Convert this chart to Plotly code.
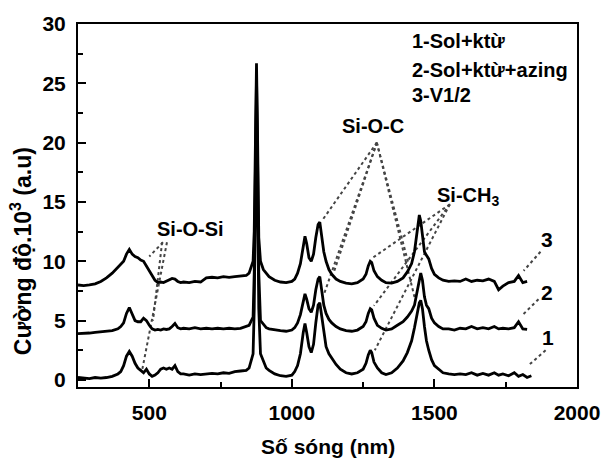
import plotly.graph_objects as go

# ---------------- data ----------------
wavenumber = [250, 270, 290, 310, 330, 350, 370, 390, 400, 410, 420, 430, 440, 450, 460, 470, 480, 490,
              500, 510, 520, 530, 540, 550, 560, 570, 580, 590, 600, 610, 620, 640, 660, 680, 700, 720,
              740, 760, 780, 800, 820, 840, 850, 858, 864, 868, 872, 876, 880, 884, 890, 900, 910, 920,
              940, 960, 980, 1000, 1010, 1020, 1030, 1040, 1046, 1052, 1060, 1068, 1076, 1084, 1092,
              1098, 1104, 1112, 1120, 1130, 1140, 1155, 1170, 1190, 1210, 1230, 1250, 1260, 1268, 1275,
              1280, 1288, 1300, 1315, 1330, 1350, 1370, 1390, 1405, 1420, 1430, 1440, 1447, 1452, 1458,
              1465, 1472, 1480, 1490, 1500, 1515, 1530, 1550, 1570, 1590, 1610, 1630, 1650, 1670, 1690,
              1710, 1725, 1740, 1760, 1780, 1795, 1810, 1825, 1840]

# curve 3 : V1/2
spec3 = [8.0, 7.95, 8.0, 8.1, 8.3, 8.6, 9.0, 9.5, 9.7, 10.0, 10.6, 11.0, 10.6, 10.4, 10.3, 10.1, 10.0, 9.6,
         9.2, 8.8, 8.4, 8.2, 8.25, 8.2, 8.3, 8.4, 8.55, 8.5, 8.3, 8.2, 8.25, 8.2, 8.3, 8.25, 8.6, 8.65,
         8.6, 8.7, 8.65, 8.7, 8.75, 8.8, 9.0, 9.5, 10.0, 12.5, 20.0, 26.7, 20.0, 12.0, 10.0, 9.3, 9.0, 8.7,
         8.4, 8.25, 8.2, 8.3, 8.5, 9.0, 9.8, 11.3, 12.1, 11.5, 10.3, 10.0, 10.6, 12.0, 13.1,
         13.3, 12.2, 10.8, 10.0, 9.3, 8.9, 8.5, 8.3, 8.15, 8.1, 8.2, 8.5, 8.9, 9.6, 10.0,
         9.9, 9.2, 8.7, 8.4, 8.2, 8.15, 8.3, 8.6, 9.1, 9.8, 10.8, 12.5, 13.9, 13.4, 12.0,
         10.8, 10.5, 10.2, 9.4, 8.9, 8.6, 8.4, 8.3, 8.35, 8.3, 8.5, 8.3, 8.4, 8.35, 8.5,
         8.3, 7.6, 7.9, 8.2, 8.3, 8.8, 8.2, 8.3, None]

# curve 2 : Sol+ktu+azing
spec2 = [3.9, 3.9, 3.95, 4.0, 4.05, 4.1, 4.15, 4.3, 4.5, 4.8, 5.6, 6.1, 5.6, 5.0, 4.9, 4.9, 5.2, 5.0,
         4.6, 4.3, 4.2, 4.25, 4.2, 4.3, 4.25, 4.3, 4.5, 4.75, 4.4, 4.3, 4.35, 4.3, 4.4, 4.3, 4.35, 4.3,
         4.35, 4.3, 4.35, 4.3, 4.35, 4.5, 4.6, 5.0, 5.3, 9.0, 18.0, 25.5, 18.0, 9.0, 5.0, 4.7, 4.4, 4.3,
         4.2, 4.15, 4.1, 4.2, 4.4, 4.8, 5.5, 6.8, 7.25, 6.8, 6.0, 5.7, 6.3, 7.6, 8.5,
         8.7, 7.6, 6.3, 5.6, 5.1, 4.8, 4.5, 4.3, 4.15, 4.1, 4.2, 4.5, 4.9, 5.6, 6.0,
         5.9, 5.2, 4.6, 4.35, 4.2, 4.3, 4.6, 4.9, 5.3, 5.8, 6.3, 7.5, 8.5, 9.0, 8.4,
         7.0, 6.3, 6.0, 5.2, 4.8, 4.5, 4.3, 4.3, 4.2, 4.35, 4.3, 4.5, 4.3, 4.4, 4.3,
         4.5, 4.3, 4.35, 4.3, 4.4, 4.9, 4.3, 4.25, None]

# curve 1 : Sol+ktu
spec1 = [0.2, 0.15, 0.1, 0.2, 0.15, 0.2, 0.3, 0.5, 0.7, 1.2, 2.0, 2.4, 2.0, 1.4, 1.0, 0.8, 0.6, 0.9,
         0.5, 0.3, 0.4, 0.6, 0.9, 1.0, 0.9, 1.0, 0.9, 1.2, 0.7, 0.5, 0.5, 0.4, 0.5, 0.45, 0.5, 0.55,
         0.5, 0.6, 0.55, 0.7, 0.75, 0.8, 1.0, 1.6, 2.2, 6.0, 15.0, 24.0, 15.0, 6.0, 2.2, 1.6, 1.0, 0.8,
         0.5, 0.35, 0.3, 0.4, 0.7, 1.2, 2.2, 4.0, 4.75, 4.0, 2.8, 2.3, 3.0, 4.8, 6.3,
         6.5, 5.5, 3.8, 2.8, 2.2, 1.8, 1.3, 0.9, 0.6, 0.5, 0.6, 0.9, 1.4, 2.1, 2.5,
         2.3, 1.5, 1.0, 0.6, 0.45, 0.6, 1.0, 1.6, 2.3, 3.3, 4.4, 5.8, 6.5, 6.7, 6.0,
         4.5, 3.3, 2.5, 1.7, 1.2, 0.9, 0.6, 0.5, 0.45, 0.5, 0.45, 0.6, 0.4, 0.55, 0.4,
         0.6, 0.4, 0.5, 0.35, 0.6, 0.3, 0.45, 0.2, 0.35]

legend_lines = ["1-Sol+ktừ", "2-Sol+ktừ+azing", "3-V1/2"]
legend_y = [28.6, 26.1, 24.0]
curve_labels = ["1", "2", "3"]
curve_label_x = [1900, 1895, 1895]
curve_label_y = [3.6, 7.4, 11.8]

band_labels = ["Si-O-Si", "Si-O-C", "Si-CH<sub>3</sub>"]
band_label_x = [644, 1284, 1616]
band_label_y = [12.7, 21.4, 15.5]

# dotted leader lines (x0, y0, x1, y1)
leader_lines = [
    (548, 11.6, 500, 10.4),   # Si-O-Si -> curve 3
    (545, 11.6, 513, 5.0),    # Si-O-Si -> curve 2
    (562, 11.6, 474, 0.7),    # Si-O-Si -> curve 1
    (1298, 20.0, 1108, 13.5), # Si-O-C
    (1298, 20.0, 1149, 9.2),
    (1298, 20.0, 1111, 7.1),
    (1298, 20.0, 1409, 9.8),
    (1298, 20.0, 1433, 6.7),
    (1554, 14.8, 1281, 10.25),  # Si-CH3
    (1554, 14.8, 1288, 6.25),
    (1554, 14.8, 1291, 2.5),
    (1872, 10.8, 1813, 9.2),  # label 3
    (1865, 6.8, 1806, 5.4),   # label 2
    (1890, 2.5, 1831, 1.25),  # label 1
]

FONT = "Arial, Liberation Sans, sans-serif"

fig = go.Figure()

for x0, y0, x1, y1 in leader_lines:
    fig.add_trace(go.Scatter(x=[x0, x1], y=[y0, y1], mode="lines",
                             line=dict(color="#444444", width=2, dash="dot"),
                             hoverinfo="skip", showlegend=False))

for spec in (spec1, spec2, spec3):
    fig.add_trace(go.Scatter(x=wavenumber, y=spec, mode="lines",
                             line=dict(color="black", width=2.8),
                             connectgaps=False, showlegend=False))

annotations = []
for txt, yy in zip(legend_lines, legend_y):
    annotations.append(dict(x=1416, y=yy, xref="x", yref="y", text=txt, showarrow=False,
                            xanchor="left", yanchor="middle",
                            font=dict(family=FONT, size=20, color="black", weight="bold")))
for txt, xx, yy in zip(curve_labels, curve_label_x, curve_label_y):
    annotations.append(dict(x=xx, y=yy, xref="x", yref="y", text=txt, showarrow=False,
                            xanchor="center", yanchor="middle",
                            font=dict(family=FONT, size=21, color="black", weight="bold")))
for txt, xx, yy in zip(band_labels, band_label_x, band_label_y):
    annotations.append(dict(x=xx, y=yy, xref="x", yref="y", text=txt, showarrow=False,
                            xanchor="center", yanchor="middle",
                            font=dict(family=FONT, size=20, color="black", weight="bold")))
annotations.append(dict(x=0.5, y=-0.163, xref="paper", yref="paper", text="Số sóng (nm)",
                        showarrow=False, xanchor="center", yanchor="middle",
                        font=dict(family=FONT, size=21, color="black", weight="bold")))
annotations.append(dict(x=-0.115, y=0.373, xref="paper", yref="paper",
                        text="Cường độ.10<sup>3</sup> (a.u)", textangle=-90,
                        showarrow=False, xanchor="center", yanchor="middle",
                        font=dict(family=FONT, size=23, color="black", weight="bold")))

axis_common = dict(showline=True, linecolor="black", linewidth=2, mirror=True,
                   ticks="inside", ticklen=8, tickwidth=2, tickcolor="black",
                   showgrid=False, zeroline=False,
                   tickfont=dict(family=FONT, size=21, color="black", weight="bold"))

fig.update_xaxes(range=[250, 2000], tick0=500, dtick=500,
                 minor=dict(ticks="inside", ticklen=5, tickwidth=2, tickcolor="black", dtick=250, tick0=250),
                 ticklabelstandoff=6, **axis_common)
fig.update_yaxes(range=[-0.6, 30], tick0=0, dtick=5,
                 minor=dict(ticks="inside", ticklen=5, tickwidth=2, tickcolor="black", dtick=2.5, tick0=0),
                 ticklabelstandoff=6, **axis_common)

fig.update_layout(width=612, height=459, margin=dict(l=78, r=28, t=20, b=72),
                  paper_bgcolor="white", plot_bgcolor="white",
                  annotations=annotations, showlegend=False)

fig.write_html("out.html", config={"displayModeBar": False},
               post_script="document.body.style.margin='0';document.body.style.padding='0';")
